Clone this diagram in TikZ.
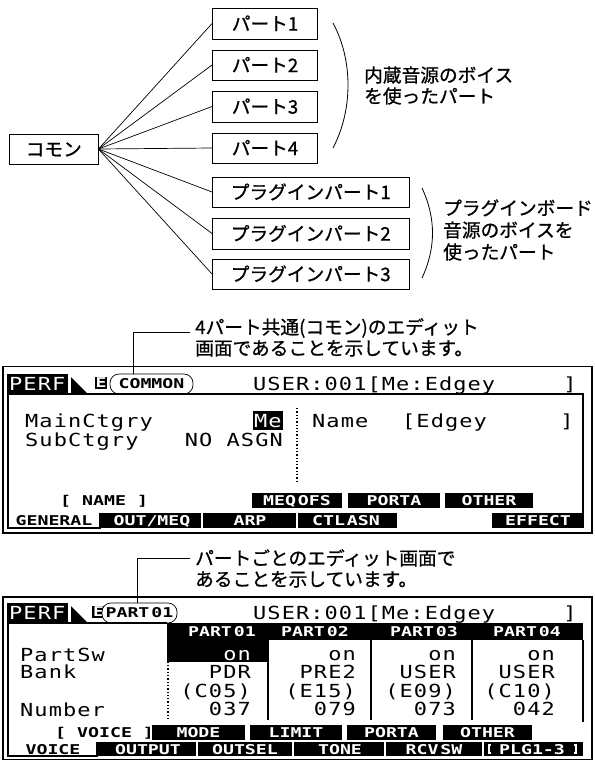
\documentclass[tikz,border=0pt]{standalone}
\usepackage{fontspec}
\newfontfamily\jp[FakeBold=0.8]{Noto Sans CJK JP}
\newfontfamily\lcd[FakeStretch=1.22,LetterSpace=6]{DejaVu Sans Mono}
\newfontfamily\lcdb[FakeStretch=1.35]{DejaVu Sans Mono}
\usetikzlibrary{calc}
\tikzset{
  jpbox/.style={draw, line width=0.9pt, inner sep=0pt, font=\jp\fontsize{18.7}{21}\selectfont, text height=14.2pt, text depth=0pt},
  jptxt/.style={anchor=west, inner sep=0pt, font=\jp\fontsize{18.7}{21}\selectfont, text height=14.2pt, text depth=0pt},
  conn/.style={line width=0.7pt},
  brk/.style={line width=0.8pt},
  lcd/.style={inner sep=0pt, font=\lcd\fontsize{18}{18}\selectfont, text height=13.1pt, text depth=0pt},
  lcds/.style={inner sep=0pt, font=\lcdb\bfseries\fontsize{13.5}{13.5}\selectfont, text height=9.8pt, text depth=0pt},
  blk/.style={fill=black},
  wt/.style={text=white},
  lcdframe/.style={line width=1.3pt},
  pline/.style={line width=1.2pt},
  sepw/.style={white, line width=1.6pt},
  colsep/.style={line width=1.5pt},
  dotl/.style={dotted, line width=1.3pt},
  ovalbox/.style={draw, line width=0.7pt, rounded corners=9pt, minimum height=20pt},
  btn/.style={lcds, blk, wt, minimum height=15pt},
}
\begin{document}
\begin{tikzpicture}[x=1pt,y=-1pt]
\useasboundingbox (0,0) rectangle (595,764);
% ---------------- top diagram ----------------
\node[jpbox, minimum width=88.5pt, minimum height=30pt] (com) at (53.75,149) {コモン};
\node[jpbox, minimum width=105pt, minimum height=31pt] (p1) at (265,23.5) {パート1};
\node[jpbox, minimum width=105pt, minimum height=30pt] (p2) at (265,65) {パート2};
\node[jpbox, minimum width=105pt, minimum height=31pt] (p3) at (265,106.5) {パート3};
\node[jpbox, minimum width=105pt, minimum height=30pt] (p4) at (265,148) {パート4};
\node[jpbox, minimum width=196.5pt, minimum height=30pt] (g1) at (310.75,192) {プラグインパート1};
\node[jpbox, minimum width=196.5pt, minimum height=31pt] (g2) at (310.75,233.5) {プラグインパート2};
\node[jpbox, minimum width=196.5pt, minimum height=30pt] (g3) at (310.75,274) {プラグインパート3};
\foreach \n in {p1,p2,p3,p4,g1,g2,g3} \draw[conn] (com.east) -- (\n.west);
\draw[brk] (333,23) .. controls (353,60) and (353,110) .. (333,148);
\draw[brk] (422,188) .. controls (436,218) and (436,248) .. (422,278);
\node[jptxt] (t1a) at (364,75) {内蔵音源のボイス};
\node[jptxt] (t1b) at (364,96) {を使ったパート};
\node[jptxt] (t2a) at (443,208) {プラグインボード};
\node[jptxt] (t2b) at (443,230) {音源のボイスを};
\node[jptxt] (t2c) at (443,252) {使ったパート};
% ---------------- screen 1 ----------------
\node[jptxt] (c1a) at (195,327) {4パート共通(コモン)のエディット};
\node[jptxt] (c1b) at (195,348) {画面であることを示しています。};
\draw[lcdframe] (3,366.5) rectangle (592,533);
\fill (8,374) rectangle (68,394);
\fill (71,377) -- (88,394) -- (71,394) -- cycle;
\node[lcd, wt, anchor=west] (perf1) at (9,384) {PERF};
\fill (95,377) rectangle (107,389);
\node[lcds, wt] (e1) at (101,383) {E};
\node[lcds, ovalbox, minimum width=83pt] (ell1) at (151.5,384) {COMMON};
\coordinate (k1) at (190,332);
\coordinate (k1b) at (133,332);
\draw[conn] (k1) -- (k1b) -- (k1b |- ell1.north);
\node[lcd, anchor=west] (u1) at (253,384) {USER:001[Me:Edgey};
\node[lcd] (rb1) at (570,384) {]};
\draw[pline] (8,374) -- (8,528) -- (100,528) -- (100,513);
\draw[pline] (8,394) -- (583,394) -- (583,513);
\node[lcd, anchor=west] (mc) at (25,421) {MainCtgry};
\fill (253,411) rectangle (283,430);
\node[lcd, wt, anchor=west] (me) at (254,421) {Me};
\node[lcd, anchor=west] (sc) at (25,440) {SubCtgry};
\node[lcd, anchor=east] (na) at (283,440) {NO ASGN};
\draw[dotl] (297,408) -- (297,483);
\node[lcd, anchor=west] (nm) at (312,421) {Name};
\node[lcd, anchor=west] (ed) at (402,421) {[Edgey};
\node[lcd] (rb2) at (567,421) {]};
\node[lcds, anchor=west] (nb) at (60,500.5) {[ NAME ]};
\node[btn, minimum width=90pt] (b1) at (297,500.5) {MEQ\kern2pt OFS};
\node[btn, minimum width=92pt] (b2) at (394,500.5) {PORTA};
\node[btn, minimum width=88pt] (b3) at (489,500.5) {OTHER};
\fill (101,513) rectangle (397,528);
\fill (492,513) rectangle (584,528);
\draw[sepw] (202,513) -- (202,528);
\draw[sepw] (297,513) -- (297,528);
\node[lcds] (tg) at (54,520.5) {GENERAL};
\node[lcds, wt] (to) at (152,520.5) {OUT/MEQ};
\node[lcds, wt] (ta) at (250,520.5) {ARP};
\node[lcds, wt] (tc) at (346,520.5) {CTL\kern2pt ASN};
\node[lcds, wt] (te) at (538,520.5) {EFFECT};
% ---------------- screen 2 ----------------
\node[jptxt] (c2a) at (195,558) {パートごとのエディット画面で};
\node[jptxt] (c2b) at (195,579) {あることを示しています。};
\draw[lcdframe] (3,597) rectangle (592,759.5);
\fill (8,603) rectangle (68,623);
\fill (71,606) -- (88,623) -- (71,623) -- cycle;
\node[lcd, wt, anchor=west] (perf2) at (9,613) {PERF};
\fill (92,606) rectangle (104,618);
\node[lcds, wt, anchor=west] (e2) at (93,612) {E};
\node[lcds, ovalbox, fill=white, minimum width=75pt] (ell2) at (139.5,613) {PART\kern2pt 01};
\coordinate (k2) at (190,558);
\coordinate (k2b) at (137,558);
\draw[conn] (k2) -- (k2b) -- (k2b |- ell2.north);
\node[lcd, anchor=west] (u2) at (253,613) {USER:001[Me:Edgey};
\node[lcd] (rb3) at (570,613) {]};
\fill (167,623) rectangle (583,640);
\fill (167,640) rectangle (268,662);
\node[lcds, wt] (h1) at (222,631.5) {PART\kern2pt 01};
\node[lcds, wt] (h2) at (315,631.5) {PART\kern2pt 02};
\node[lcds, wt] (h3) at (424,631.5) {PART\kern2pt 03};
\node[lcds, wt] (h4) at (527,631.5) {PART\kern2pt 04};
\draw[pline] (8,603) -- (8,756) -- (97,756) -- (97,742);
\draw[pline] (8,623) -- (167,623);
\draw[pline] (583,640) -- (583,722);
\draw[colsep] (268,640) -- (268,720);
\draw[colsep] (371,640) -- (371,720);
\draw[colsep] (472,640) -- (472,720);
\draw[dotl] (168,642) -- (168,720);
\node[lcd, anchor=west] (ps) at (20,655) {PartSw};
\node[lcd, anchor=west] (bk) at (20,672) {Bank};
\node[lcd, anchor=west] (nu) at (20,710) {Number};
\node[lcd, wt, anchor=east] (v11) at (251,654) {on};
\node[lcd, anchor=east] (v12) at (251,672) {PDR};
\node[lcd, anchor=east] (v13) at (251,690.5) {(C05)};
\node[lcd, anchor=east] (v14) at (251,709) {037};
\node[lcd, anchor=east] (v21) at (356,654) {on};
\node[lcd, anchor=east] (v22) at (356,672) {PRE2};
\node[lcd, anchor=east] (v23) at (356,690.5) {(E15)};
\node[lcd, anchor=east] (v24) at (356,709) {079};
\node[lcd, anchor=east] (v31) at (456,654) {on};
\node[lcd, anchor=east] (v32) at (456,672) {USER};
\node[lcd, anchor=east] (v33) at (456,690.5) {(E09)};
\node[lcd, anchor=east] (v34) at (456,709) {073};
\node[lcd, anchor=east] (v41) at (555,654) {on};
\node[lcd, anchor=east] (v42) at (555,672) {USER};
\node[lcd, anchor=east] (v43) at (555,690.5) {(C10)};
\node[lcd, anchor=east] (v44) at (555,709) {042};
\node[lcds, anchor=west] (vb) at (55,732.5) {[ VOICE ]};
\node[btn, minimum width=93pt] (m1) at (198.5,732.5) {MODE};
\node[btn, minimum width=92pt] (m2) at (296,732.5) {LIMIT};
\node[btn, minimum width=89pt] (m3) at (391.5,732.5) {PORTA};
\node[btn, minimum width=89pt] (m4) at (487.5,732.5) {OTHER};
\fill (97,742) rectangle (583,756);
\draw[sepw] (197,742) -- (197,756);
\draw[sepw] (293,742) -- (293,756);
\draw[sepw] (385,742) -- (385,756);
\draw[sepw] (483,742) -- (483,756);
\draw[white, line width=1.2pt] (491,745) -- (489,745) -- (489,753) -- (491,753);
\draw[white, line width=1.2pt] (574,745) -- (576,745) -- (576,753) -- (574,753);
\node[lcds] (w1) at (53,749.5) {VOICE};
\node[lcds, wt] (w2) at (148,749.5) {OUTPUT};
\node[lcds, wt] (w3) at (245,749.5) {OUTSEL};
\node[lcds, wt] (w4) at (340,749.5) {TONE};
\node[lcds, wt] (w5) at (434,749.5) {RCV\kern2pt SW};
\node[lcds, wt] (w6) at (532,749.5) {PLG1-3};
\end{tikzpicture}
\end{document}
